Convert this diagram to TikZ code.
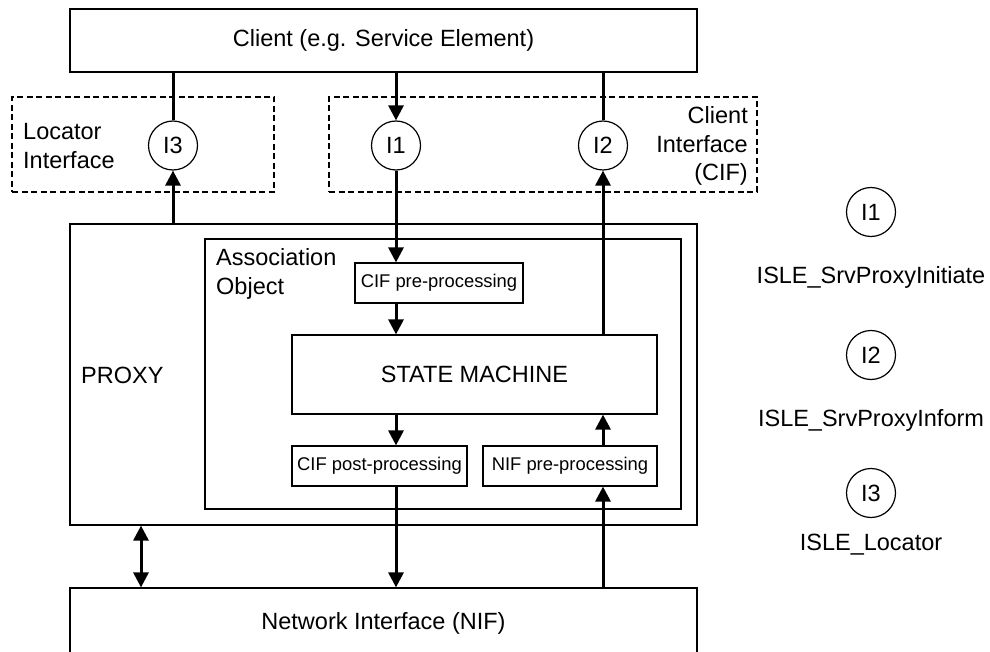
\documentclass[tikz,border=0pt]{standalone}
\usepackage{fontspec}
\setmainfont{Liberation Sans}
\usetikzlibrary{arrows.meta}

\newcommand{\bigtext}{\fontsize{23.5pt}{28.5pt}\selectfont}
\newcommand{\smalltext}{\fontsize{18.4pt}{22pt}\selectfont}

\begin{document}
\begin{tikzpicture}[x = 1pt, y = -1pt,
    every node/.style = { font = \bigtext },
    block/.style = { draw, rectangle, line width = 1.2pt, inner sep = 0pt },
    iface/.style = { draw, rectangle, dash pattern = on 6pt off 3.5pt, line width = 1.3pt, inner sep = 0pt },
    port/.style = { draw, circle, line width = 1.2pt, minimum size = 49pt, inner sep = 0pt },
    tag/.style = { inner sep = 0pt },
    link/.style = { line width = 3pt },
    flow/.style = { line width = 3pt, -{Triangle[width = 15pt, length = 15pt]} },
    twoway/.style = { line width = 3pt, {Triangle[width = 15pt, length = 15pt]}-{Triangle[width = 15pt, length = 15pt]} }]
      \useasboundingbox (0, 0) rectangle (990, 652);
      \clip (0, 0) rectangle (990, 652);

      % client side and its interfaces
      \node [block, minimum width = 627pt, minimum height = 63pt] (client) at (383.5, 40.5) { Client (e.g. Service Element) };
      \node [iface, minimum width = 262pt, minimum height = 95pt] (locif) at (143, 144.5) {};
      \node [iface, minimum width = 428pt, minimum height = 95pt] (cif) at (543, 144.5) {};
      \node [tag, anchor = west, align = left] (locname) at (23, 146) { Locator \\ Interface };
      \node [tag, anchor = east, align = right] (cifname) at (748, 146) { Client \\ Interface \\ (CIF) };
      \node [port] (i3) at (173, 145.5) { I3 };
      \node [port] (i1) at (396, 145.5) { I1 };
      \node [port] (i2) at (603, 145.5) { I2 };

      % proxy and association object
      \node [block, minimum width = 627pt, minimum height = 301pt] (proxy) at (383.5, 374.5) {};
      \node [tag, anchor = west] (proxyname) at (81, 375) { PROXY };
      \node [block, minimum width = 476pt, minimum height = 270pt] (assoc) at (443, 374) {};
      \node [tag, anchor = west, align = left] (assocname) at (216, 274) { Association \\ Object };
      \node [block, font = \smalltext, minimum width = 168pt, minimum height = 40pt] (cifpre) at (439, 283) { CIF pre-processing };
      \node [block, minimum width = 365pt, minimum height = 79pt] (sm) at (474.5, 374.5) { STATE MACHINE };
      \node [block, font = \smalltext, minimum width = 175pt, minimum height = 40pt] (cifpost) at (379.5, 466) { CIF post-processing };
      \node [block, font = \smalltext, minimum width = 174pt, minimum height = 40pt] (nifpre) at (570, 466) { NIF pre-processing };

      % network side
      \node [block, minimum width = 627pt, minimum height = 70pt] (nif) at (383.5, 623) { Network Interface (NIF) };
      \coordinate (dlink) at (141, 555);

      % key
      \node [port] (key1) at (871, 212) { I1 };
      \node [tag] (keyname1) at (871, 277) { ISLE\_SrvProxyInitiate };
      \node [port] (key2) at (871, 355) { I2 };
      \node [tag] (keyname2) at (871, 420) { ISLE\_SrvProxyInform };
      \node [port] (key3) at (871, 493) { I3 };
      \node [tag] (keyname3) at (871, 545) { ISLE\_Locator };

      \draw [link] (client.south -| i3) -- (i3);
      \draw [flow] (proxy.north -| i3) -- (i3);
      \draw [flow] (client.south -| i1) -- (i1);
      \draw [flow] (i1) -- (cifpre.north -| i1);
      \draw [flow] (cifpre.south -| i1) -- (sm.north -| i1);
      \draw [flow] (sm.south -| i1) -- (cifpost.north -| i1);
      \draw [flow] (cifpost.south -| i1) -- (nif.north -| i1);
      \draw [flow] (nif.north -| i2) -- (nifpre.south -| i2);
      \draw [flow] (nifpre.north -| i2) -- (sm.south -| i2);
      \draw [flow] (sm.north -| i2) -- (i2);
      \draw [link] (i2) -- (client.south -| i2);
      \draw [twoway] (proxy.south -| dlink) -- (nif.north -| dlink);
    \end{tikzpicture}
\end{document}
